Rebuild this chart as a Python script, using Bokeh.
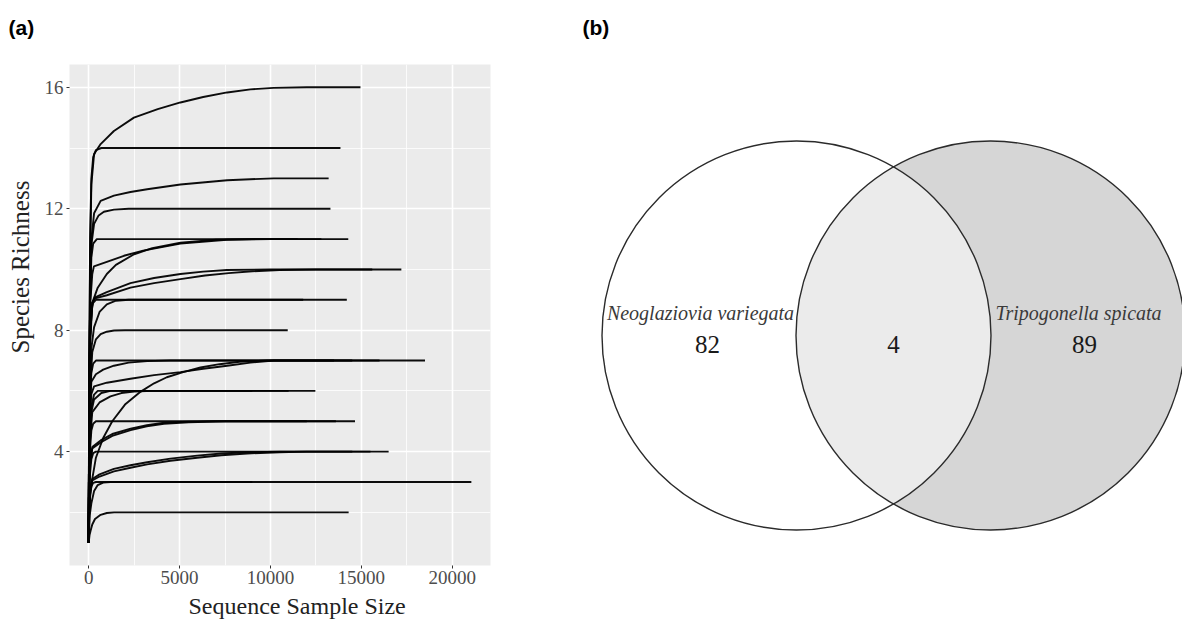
from bokeh.plotting import figure
from bokeh.layouts import row
from bokeh.models import Range1d, FixedTicker, Title
from bokeh.core.properties import value
from bokeh.embed import file_html
from bokeh.resources import INLINE

# ---------------- Data: rarefaction curves (sequence depth, species richness) ----------------
s01_x = [1, 30, 80, 150, 300, 660, 1390, 2490, 3800, 5050, 6300, 7620, 8900, 10170, 12000, 14950]
s01_y = [1, 6, 10.5, 12.8, 13.8, 14.13, 14.56, 15.0, 15.28, 15.5, 15.68, 15.83, 15.93, 15.98, 16, 16]
s02_x = [1, 30, 80, 150, 250, 400, 700, 13850]
s02_y = [1, 6.5, 11, 13, 13.7, 13.93, 14, 14]
s03_x = [1, 30, 80, 150, 300, 660, 1390, 2300, 3220, 5050, 7620, 10180, 13200]
s03_y = [1, 5.5, 9, 11, 11.85, 12.26, 12.43, 12.55, 12.64, 12.8, 12.94, 13, 13]
s04_x = [1, 30, 80, 150, 300, 550, 840, 1390, 2200, 13300]
s04_y = [1, 5.5, 9, 10.8, 11.5, 11.78, 11.9, 11.97, 12, 12]
s05_x = [1, 30, 80, 150, 250, 450, 14280]
s05_y = [1, 5.5, 9, 10.4, 10.85, 11, 11]
s06_x = [1, 30, 80, 200, 290, 1000, 1940, 3000, 5050, 7600, 10000, 12800]
s06_y = [1, 5.5, 8.8, 9.85, 10.1, 10.25, 10.45, 10.62, 10.85, 10.98, 11, 11]
s07_x = [1, 30, 80, 200, 500, 1000, 1500, 2500, 3500, 5050, 7000, 9000, 11500]
s07_y = [1, 5, 7.5, 8.9, 9.4, 9.85, 10.15, 10.5, 10.7, 10.88, 10.98, 11, 11]
s08_x = [1, 30, 80, 200, 350, 1000, 2300, 3600, 5050, 6300, 7600, 10000, 17200]
s08_y = [1, 5, 7.8, 8.9, 9.08, 9.25, 9.55, 9.72, 9.85, 9.93, 9.98, 10, 10]
s09_x = [1, 30, 80, 200, 350, 1000, 2300, 3600, 5050, 6400, 7700, 9000, 10500, 12500, 15600]
s09_y = [1, 5, 7.8, 8.9, 9.05, 9.15, 9.4, 9.55, 9.68, 9.8, 9.88, 9.94, 9.98, 10, 10]
s10_x = [1, 30, 80, 150, 250, 400, 14200]
s10_y = [1, 5, 7.8, 8.6, 8.9, 9, 9]
s11_x = [1, 30, 80, 150, 300, 600, 1000, 1500, 2200, 11800]
s11_y = [1, 4.5, 6.5, 7.4, 8.1, 8.6, 8.85, 8.97, 9, 9]
s12_x = [1, 30, 80, 200, 400, 660, 1000, 1400, 2000, 10950]
s12_y = [1, 4, 6, 7.28, 7.7, 7.87, 7.95, 7.99, 8, 8]
s13_x = [1, 30, 80, 150, 250, 400, 18500]
s13_y = [1, 4, 5.8, 6.6, 6.9, 7, 7]
s14_x = [1, 30, 80, 150, 400, 800, 1390, 2200, 3220, 4500, 13500]
s14_y = [1, 4, 5.5, 6.3, 6.55, 6.7, 6.83, 6.93, 6.98, 7, 7]
s15_x = [1, 30, 80, 150, 300, 1000, 2300, 3600, 5050, 6300, 7620, 8900, 10180, 14500]
s15_y = [1, 4, 5.3, 5.9, 6.15, 6.27, 6.4, 6.52, 6.62, 6.73, 6.83, 6.93, 7, 7]
s16_x = [1, 30, 80, 200, 400, 800, 1300, 2000, 2800, 3600, 4300, 5200, 6150, 7200, 8300, 9800, 16000]
s16_y = [1, 1.8, 2.5, 3.1, 3.8, 4.45, 5.0, 5.55, 5.95, 6.25, 6.45, 6.62, 6.77, 6.88, 6.96, 7, 7]
s17_x = [1, 30, 80, 150, 300, 500, 12470]
s17_y = [1, 3.5, 4.8, 5.5, 5.88, 6, 6]
s18_x = [1, 30, 80, 200, 600, 1200, 1800, 2500, 3500, 11000]
s18_y = [1, 3.3, 4.4, 5.3, 5.62, 5.82, 5.93, 5.98, 6, 6]
s19_x = [1, 30, 80, 150, 300, 700, 1200, 9000]
s19_y = [1, 3.3, 4.6, 5.3, 5.72, 5.93, 6, 6]
s20_x = [1, 30, 80, 150, 250, 400, 14650]
s20_y = [1, 3, 4.1, 4.7, 4.92, 5, 5]
s21_x = [1, 30, 80, 200, 660, 1300, 2310, 3200, 4140, 5500, 6900, 12000]
s21_y = [1, 2.8, 3.6, 4.15, 4.37, 4.58, 4.76, 4.87, 4.95, 4.99, 5, 5]
s22_x = [1, 30, 80, 200, 660, 1300, 2310, 3200, 4140, 5500, 7500, 13600]
s22_y = [1, 2.8, 3.6, 4.1, 4.3, 4.52, 4.71, 4.83, 4.92, 4.97, 5, 5]
s23_x = [1, 30, 80, 150, 250, 400, 16500]
s23_y = [1, 2.5, 3.3, 3.75, 3.95, 4, 4]
s24_x = [1, 30, 80, 200, 600, 1390, 2300, 3220, 4500, 5970, 7300, 8720, 10500, 14500]
s24_y = [1, 2.2, 2.8, 3.1, 3.25, 3.43, 3.55, 3.65, 3.77, 3.87, 3.94, 3.98, 4, 4]
s25_x = [1, 30, 80, 200, 600, 1390, 2300, 3220, 4500, 5970, 7300, 8720, 10500, 12000, 15500]
s25_y = [1, 2.2, 2.8, 3.05, 3.18, 3.35, 3.47, 3.58, 3.7, 3.8, 3.88, 3.94, 3.98, 4, 4]
s26_x = [1, 30, 80, 150, 250, 400, 21050]
s26_y = [1, 2, 2.6, 2.85, 2.97, 3, 3]
s27_x = [1, 60, 150, 300, 500, 800, 1200, 9000]
s27_y = [1, 1.9, 2.3, 2.7, 2.9, 2.98, 3, 3]
s28_x = [1, 50, 110, 200, 350, 660, 1000, 1400, 14300]
s28_y = [1, 1.25, 1.4, 1.6, 1.78, 1.92, 1.98, 2, 2]

curves_x = [s01_x, s02_x, s03_x, s04_x, s05_x, s06_x, s07_x, s08_x, s09_x, s10_x, s11_x, s12_x, s13_x, s14_x,
            s15_x, s16_x, s17_x, s18_x, s19_x, s20_x, s21_x, s22_x, s23_x, s24_x, s25_x, s26_x, s27_x, s28_x]
curves_y = [s01_y, s02_y, s03_y, s04_y, s05_y, s06_y, s07_y, s08_y, s09_y, s10_y, s11_y, s12_y, s13_y, s14_y,
            s15_y, s16_y, s17_y, s18_y, s19_y, s20_y, s21_y, s22_y, s23_y, s24_y, s25_y, s26_y, s27_y, s28_y]

x_ticks = [0, 5000, 10000, 15000, 20000]
x_minor = [2500, 7500, 12500, 17500]
y_ticks = [4, 8, 12, 16]
y_minor = [2, 6, 10, 14]

x_title = "Sequence Sample Size"
y_title = "Species Richness"

# Venn data
venn_names = ["Neoglaziovia variegata", "Tripogonella spicata"]
venn_counts = [82, 4, 89]

SERIF = "Liberation Serif"
TOP, BOTTOM, H = 64, 63, 628


def panel_tag(p, text, offset):
    # the trailing empty line lifts the tag towards the top edge of the page
    p.title.text = text + "\n"
    p.title.align = "left"
    p.title.vertical_align = "top"
    p.title.offset = offset
    p.title.standoff = 2
    p.title.text_font = "Liberation Sans"
    p.title.text_font_style = "bold"
    p.title.text_font_size = "21px"
    p.title.text_color = "black"


# ---------------- Panel (a) ----------------
xmax = max(max(c) for c in curves_x)
ymin, ymax = 1, 16
xpad = 0.05 * xmax
ypad = 0.05 * (ymax - ymin)

pa = figure(width=560, height=H, output_backend="svg", toolbar_location=None,
            x_range=Range1d(-xpad, xmax + xpad), y_range=Range1d(ymin - ypad, ymax + ypad),
            min_border_left=69, min_border_right=70, min_border_top=TOP, min_border_bottom=BOTTOM)
pa.background_fill_color = "#EBEBEB"
pa.border_fill_color = "white"
pa.outline_line_color = None
panel_tag(pa, "(a)", -61)

pa.xaxis.ticker = FixedTicker(ticks=x_ticks, minor_ticks=x_minor)
pa.yaxis.ticker = FixedTicker(ticks=y_ticks, minor_ticks=y_minor)
for g in (pa.xgrid, pa.ygrid):
    g.grid_line_color = "white"
    g.grid_line_width = 1.6
    g.minor_grid_line_color = "white"
    g.minor_grid_line_width = 0.8
for ax in (pa.xaxis, pa.yaxis):
    ax.axis_line_color = None
    ax.major_tick_out = 3
    ax.major_tick_in = 0
    ax.minor_tick_out = 0
    ax.minor_tick_in = 0
    ax.major_tick_line_color = "#333333"
    ax.major_label_text_font = SERIF
    ax.major_label_text_font_size = "19px"
    ax.major_label_text_color = "#4D4D4D"
pa.xaxis.major_label_standoff = 2
pa.yaxis.major_label_standoff = 3

# axis titles (placed like the reference, slightly off-centre)
pa.add_layout(Title(text=x_title, align="left", offset=119, standoff=8,
                    text_font=SERIF, text_font_size="24px", text_font_style="normal",
                    text_color="#222222"), "below")
pa.add_layout(Title(text=y_title, align="left", offset=212, standoff=12, vertical_align="top",
                    text_font=SERIF, text_font_size="25px", text_font_style="normal",
                    text_color="#222222"), "left")

pa.multi_line(xs=curves_x, ys=curves_y, line_color="black", line_width=1.9, line_alpha=0.95)

# ---------------- Panel (b) ----------------
pb = figure(width=622, height=H, output_backend="svg", toolbar_location=None,
            x_range=Range1d(560, 1182), y_range=Range1d(H - BOTTOM, TOP),
            x_axis_location=None, y_axis_location=None,
            min_border_left=0, min_border_right=0, min_border_top=TOP, min_border_bottom=BOTTOM)
pb.grid.visible = False
pb.outline_line_color = None
pb.background_fill_color = "white"
pb.border_fill_color = "white"
panel_tag(pb, "(b)", 22)

left_cx, right_cx, cy, rad = 796, 990, 335, 194.5
pb.circle(x=[right_cx], y=[cy], radius=rad, fill_color="#D6D6D6", line_color=None)
pb.circle(x=[left_cx], y=[cy], radius=rad, fill_color="white", fill_alpha=0.51, line_color=None)
pb.circle(x=[left_cx, right_cx], y=[cy, cy], radius=rad, fill_color=None, line_color="#2B2B2B", line_width=1.4)

pb.text(x=[left_cx - 96, right_cx + 88], y=[cy - 23, cy - 23], text=venn_names,
        text_font=value(SERIF), text_font_style="italic", text_font_size="20px",
        text_color="#3A3A3A", text_align="center", text_baseline="middle")
pb.text(x=[left_cx - 89, (left_cx + right_cx) / 2, right_cx + 94], y=[cy + 9] * 3,
        text=[str(v) for v in venn_counts],
        text_font=value(SERIF), text_font_size="25px",
        text_color="#1A1A1A", text_align="center", text_baseline="middle")

layout = row(pa, pb)
open("out.html", "w").write(file_html(layout, INLINE))
